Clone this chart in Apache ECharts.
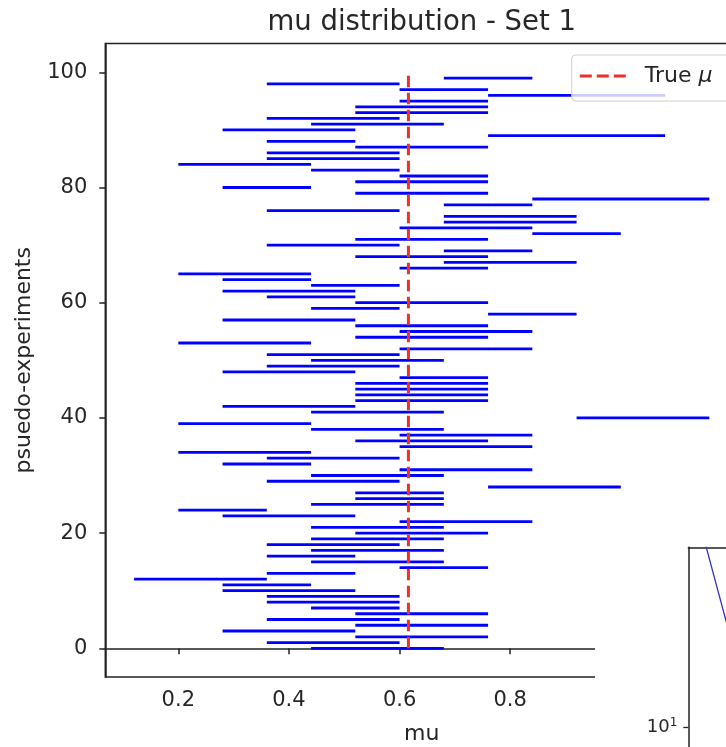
<!DOCTYPE html>
<html>
<head>
<meta charset="utf-8">
<script src="https://cdn.jsdelivr.net/npm/echarts@6/dist/echarts.min.js"></script>
<style>html,body{margin:0;padding:0;background:#fff;}#c{width:726px;height:747px;}</style>
</head>
<body>
<div id="c"></div>
<script>
// ---- data ----
const experiments = [0,1,2,3,4,5,6,7,8,9,10,11,12,13,14,15,16,17,18,19,20,21,22,23,24,25,26,27,28,29,30,31,32,33,34,35,36,37,38,39,40,41,42,43,44,45,46,47,48,49,50,51,52,53,54,55,56,57,58,59,60,61,62,63,64,65,66,67,68,69,70,71,72,73,74,75,76,77,78,79,80,81,82,83,84,85,86,87,88,89,90,91,92,93,94,95,96,97,98,99];
const muLow = [0.44,0.36,0.52,0.28,0.52,0.36,0.52,0.44,0.36,0.36,
  0.28,0.28,0.12,0.36,0.60,0.44,0.36,0.44,0.36,0.44,
  0.52,0.44,0.60,0.28,0.20,0.44,0.52,0.52,0.76,0.36,
  0.44,0.60,0.28,0.36,0.20,0.60,0.52,0.60,0.44,0.20,
  0.92,0.44,0.28,0.52,0.52,0.52,0.52,0.60,0.28,0.36,
  0.44,0.36,0.60,0.20,0.52,0.60,0.52,0.28,0.76,0.44,
  0.52,0.36,0.28,0.44,0.28,0.20,0.60,0.68,0.52,0.68,
  0.36,0.52,0.84,0.60,0.68,0.68,0.36,0.68,0.84,0.52,
  0.28,0.52,0.60,0.44,0.20,0.36,0.36,0.52,0.36,0.76,
  0.28,0.44,0.36,0.52,0.52,0.60,0.76,0.60,0.36,0.68];
const muHigh = [0.68,0.60,0.76,0.52,0.76,0.60,0.76,0.60,0.60,0.60,
  0.52,0.44,0.36,0.52,0.76,0.68,0.52,0.68,0.60,0.68,
  0.76,0.68,0.84,0.52,0.36,0.68,0.68,0.68,1.00,0.60,
  0.68,0.84,0.44,0.60,0.44,0.84,0.76,0.84,0.68,0.44,
  1.16,0.68,0.52,0.76,0.76,0.76,0.76,0.76,0.52,0.60,
  0.68,0.60,0.84,0.44,0.76,0.84,0.76,0.52,0.92,0.60,
  0.76,0.52,0.52,0.60,0.44,0.44,0.76,0.92,0.76,0.84,
  0.60,0.76,1.00,0.84,0.92,0.92,0.60,0.84,1.16,0.76,
  0.44,0.76,0.76,0.60,0.44,0.60,0.60,0.76,0.52,1.08,
  0.52,0.68,0.60,0.76,0.76,0.76,1.08,0.76,0.60,0.84];
const trueMu = 0.616;
const trueMuSpan = [0, 100];
const xTicks = [0.2, 0.4, 0.6, 0.8, 1.0, 1.2];
const yTicks = [0, 20, 40, 60, 80, 100];
// partially visible second panel (log axis)
const insetX = [0.6, 2.1];
const insetY = [61, 22.4];
const insetMajorTicks = [10];
const insetMinorTicks = [9, 20, 30, 40];

const FONT = 'DejaVu Sans';
const TXT = '#262626';
const AX = '#222222';
const RED = '#ee3124';

const segData = experiments.map((e, k) => [e, muLow[k], muHigh[k]]);
const redData = trueMuSpan.map(v => [trueMu, v]);
const insetData = insetX.map((x, k) => [x, insetY[k]]);

const chart = echarts.init(document.getElementById('c'), null, {renderer: 'canvas'});
chart.setOption({
  animation: false,
  backgroundColor: '#ffffff',
  title: {
    text: 'mu distribution - Set 1',
    left: 421.7, top: 9, padding: 0, textAlign: 'center',
    textStyle: {fontFamily: FONT, fontSize: 27.5, fontWeight: 'normal', color: TXT}
  },
  legend: {
    data: ['True μ'],
    left: 571.7, top: 55,
    padding: [8, 30, 12, 6.6],
    itemWidth: 47, itemHeight: 14,
    backgroundColor: 'rgba(255,255,255,0.8)',
    borderColor: '#cfcfcf', borderWidth: 1, borderRadius: 4,
    itemStyle: {opacity: 0},
    lineStyle: {color: RED, width: 3, type: [12, 5], opacity: 1},
    formatter: () => 'True {i|μ}',
    textStyle: {
      fontFamily: FONT, fontSize: 22, color: TXT, lineHeight: 26, padding: [0, 0, 0, 13],
      rich: {i: {fontFamily: FONT, fontSize: 22, fontStyle: 'italic', color: TXT, lineHeight: 26}}
    }
  },
  grid: [
    {left: 105.3, top: 43.5, width: 632.8, height: 633.6, outerBoundsMode: 'none', containLabel: false,
     show: true, borderColor: AX, borderWidth: 1.5, backgroundColor: 'transparent'},
    {left: 688.3, top: 547.3, width: 300, height: 400, outerBoundsMode: 'none', containLabel: false, show: false}
  ],
  xAxis: [
    {
      gridIndex: 0, type: 'value', min: 0.068, max: 1.212,
      axisLine: {show: true, lineStyle: {color: AX, width: 1.5}},
      axisTick: {show: true, length: 6, customValues: xTicks, lineStyle: {color: AX, width: 1.5}},
      axisLabel: {customValues: xTicks, formatter: v => v.toFixed(1), fontFamily: FONT, fontSize: 21, color: TXT, margin: 13},
      splitLine: {show: false},
      name: 'mu', nameLocation: 'middle', nameGap: 46,
      nameTextStyle: {fontFamily: FONT, fontSize: 22, color: TXT}
    },
    {
      gridIndex: 1, type: 'value', min: 0, max: 15, position: 'top', z: 60,
      axisLine: {show: true, lineStyle: {color: AX, width: 1.5}},
      axisTick: {show: false}, axisLabel: {show: false}, splitLine: {show: false}
    }
  ],
  yAxis: [
    {
      gridIndex: 0, type: 'value', min: -5, max: 105,
      axisLine: {show: true, lineStyle: {color: AX, width: 1.5}},
      axisTick: {show: true, length: 6, customValues: yTicks, lineStyle: {color: AX, width: 1.5}},
      axisLabel: {customValues: yTicks, fontFamily: FONT, fontSize: 21, color: TXT, margin: 18},
      splitLine: {show: false},
      name: 'psuedo-experiments', nameLocation: 'middle', nameRotate: 90, nameGap: 70,
      nameTextStyle: {fontFamily: FONT, fontSize: 22, color: TXT}
    },
    {
      gridIndex: 1, type: 'log', logBase: 10, min: 1.386, max: 50, z: 60,
      axisLine: {show: true, lineStyle: {color: AX, width: 1.5}},
      axisTick: {show: true, length: 5, customValues: insetMajorTicks, lineStyle: {color: AX, width: 1.3}},
      axisLabel: {
        customValues: insetMajorTicks, margin: 11, color: TXT,
        formatter: v => '10{s|' + Math.round(Math.log10(v)) + '}',
        rich: {s: {fontFamily: FONT, fontSize: 12, color: TXT, verticalAlign: 'top', padding: [0, 0, 8, 0]}},
        fontFamily: FONT, fontSize: 18
      },
      splitLine: {show: false}
    },
    {
      gridIndex: 1, type: 'log', logBase: 10, min: 1.386, max: 50, z: 60,
      axisLine: {show: false},
      axisTick: {show: true, length: 3.3, customValues: insetMinorTicks, lineStyle: {color: AX, width: 1.1}},
      axisLabel: {show: false},
      splitLine: {show: false}
    }
  ],
  graphic: [
    {type: 'rect', z: 50, shape: {x: 595, y: 540, width: 140, height: 210}, style: {fill: '#ffffff'}}
  ],
  series: [
    {
      type: 'custom', xAxisIndex: 0, yAxisIndex: 0, z: 3,
      data: segData,
      encode: {x: [1, 2], y: 0},
      renderItem: (params, api) => {
        const y = api.value(0);
        const a = api.coord([api.value(1), y]);
        const b = api.coord([api.value(2), y]);
        return {type: 'line', shape: {x1: a[0], y1: a[1], x2: b[0], y2: b[1]},
          style: {stroke: '#0000ff', lineWidth: 2.8}};
      }
    },
    {
      name: 'True μ', type: 'line', xAxisIndex: 0, yAxisIndex: 0, z: 4,
      data: redData, symbol: 'none', itemStyle: {color: RED},
      lineStyle: {color: RED, width: 3, type: [11.5, 5.5]}
    },
    {
      type: 'line', xAxisIndex: 1, yAxisIndex: 1, z: 61,
      data: insetData, symbol: 'none', clip: true,
      lineStyle: {color: '#3232cc', width: 1.3}
    }
  ]
});
</script>
</body>
</html>
